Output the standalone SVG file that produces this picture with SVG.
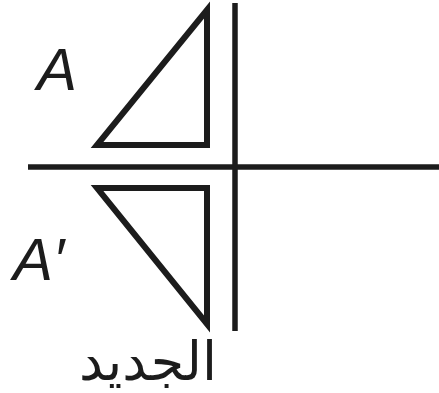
<svg xmlns="http://www.w3.org/2000/svg" width="439" height="393" viewBox="0 0 439 393">
<style>
.ln{stroke:#1c1c1c;stroke-width:5.5;fill:none;}
.tri{stroke:#1c1c1c;stroke-width:6;fill:none;stroke-linejoin:miter;}
.lbl{font-family:"Liberation Sans",Arial,sans-serif;font-style:italic;font-size:60px;fill:#1c1c1c;}
.ar{font-family:"DejaVu Sans",sans-serif;font-size:54px;fill:#1c1c1c;}
</style>
<rect width="439" height="393" fill="#fff"/>
<g id="axes">
<line class="ln" x1="235" y1="3" x2="235" y2="331"/>
<line class="ln" x1="28" y1="167" x2="439" y2="167"/>
</g>
<g id="triangleA">
<polygon class="tri" points="207,10 97,145 207,145"/>
</g>
<g id="triangleA2">
<polygon class="tri" points="97,188 207,188 207,324"/>
</g>
<g id="labelA"><text class="lbl" x="37" y="90">A</text></g>
<g id="labelA2"><text class="lbl" x="13" y="280">A′</text></g>
<g id="caption"><text class="ar" x="148" y="380" text-anchor="middle" direction="rtl">الجديد</text></g>
</svg>
